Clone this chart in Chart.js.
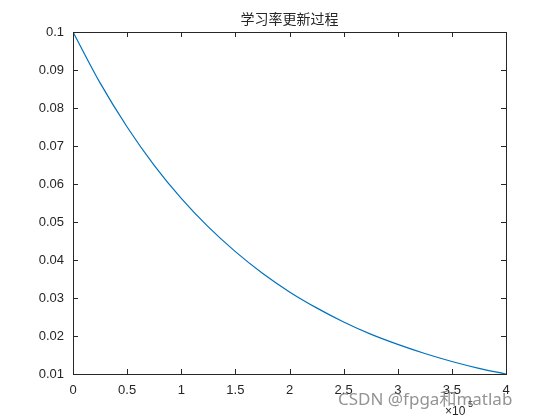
<!DOCTYPE html>
<html>
<head>
<meta charset="utf-8">
<script src="https://cdn.jsdelivr.net/npm/chart.js@4"></script>
<style>
  html, body { margin: 0; padding: 0; background: #fff; }
  #wrap { width: 560px; height: 420px; }
</style>
</head>
<body>
<div id="wrap"><canvas id="graph"></canvas></div>
<script>
// iteration (x 10^5) and learning rate
const iters = [0, 0.25, 0.5, 0.75, 1, 1.25, 1.5, 1.75, 2, 2.25, 2.5, 2.75, 3, 3.25, 3.5, 3.75, 4]
const rate = [0.1, 0.0866, 0.075, 0.0649, 0.0562, 0.0487, 0.0422, 0.0365, 0.0316, 0.0274, 0.0237, 0.0205, 0.0178, 0.0154, 0.0133, 0.0115, 0.01]
const xTicks = [0, 0.5, 1, 1.5, 2, 2.5, 3, 3.5, 4]
const yTicks = [0.01, 0.02, 0.03, 0.04, 0.05, 0.06, 0.07, 0.08, 0.09, 0.1]
const title = '学习率更新过程'

const AXIS = '#262626'

const boxTicks = {
  id: 'boxTicks',
  afterDraw(chart) {
    const { ctx, chartArea: { left, right, top, bottom }, scales: { x, y } } = chart
    ctx.save()
    ctx.strokeStyle = AXIS
    ctx.lineWidth = 1
    ctx.strokeRect(left + 0.5, top + 0.5, right - left, bottom - top)
    ctx.beginPath()
    xTicks.forEach(v => {
      const px = Math.round(x.getPixelForValue(v)) + 0.5
      ctx.moveTo(px, bottom); ctx.lineTo(px, bottom - 5)
      ctx.moveTo(px, top); ctx.lineTo(px, top + 5)
    })
    yTicks.forEach(v => {
      const py = Math.round(y.getPixelForValue(v)) + 0.5
      ctx.moveTo(left, py); ctx.lineTo(left + 5, py)
      ctx.moveTo(right, py); ctx.lineTo(right - 5, py)
    })
    ctx.stroke()

    // title
    ctx.fillStyle = AXIS
    ctx.font = '14px "Noto Sans CJK SC"'
    ctx.textAlign = 'center'
    ctx.textBaseline = 'alphabetic'
    ctx.fillText(title, (left + right) / 2, 24)

    // exponent
    ctx.font = '12px Arial, "Liberation Sans"'
    ctx.textAlign = 'left'
    ctx.fillText('×10', right - 61, 415)
    ctx.font = '9px Arial, "Liberation Sans"'
    ctx.fillText('5', right - 38, 407)

    // watermark
    ctx.font = '17px "Noto Sans", "Noto Sans CJK SC"'
    ctx.fillStyle = 'rgba(120,120,120,0.8)'
    ctx.fillText('CSDN @fpga和matlab', 338, 405)
    ctx.restore()
  }
}

const fmt = v => String(Number(Number(v).toFixed(2)))

new Chart(document.getElementById('graph'), {
  type: 'line',
  plugins: [boxTicks],
  data: {
    datasets: [{
      data: iters.map((v, i) => ({ x: v, y: rate[i] })),
      borderColor: '#0072BD',
      borderWidth: 1.2,
      pointRadius: 0,
      fill: false,
      cubicInterpolationMode: 'monotone'
    }]
  },
  options: {
    responsive: true,
    maintainAspectRatio: false,
    animation: false,
    layout: { padding: { top: 32, right: 54, left: 0, bottom: 0 } },
    plugins: { legend: { display: false }, tooltip: { enabled: false }, title: { display: false } },
    scales: {
      x: {
        type: 'linear',
        min: 0,
        max: 4,
        afterBuildTicks: s => { s.ticks = xTicks.map(v => ({ value: v })) },
        afterFit: s => { s.height = 46 },
        grid: { display: false, drawTicks: false },
        border: { display: false },
        ticks: { padding: 9, color: AXIS, font: { family: 'Arial, "Liberation Sans"', size: 13 }, callback: fmt, maxRotation: 0 }
      },
      y: {
        type: 'linear',
        min: 0.01,
        max: 0.1,
        afterBuildTicks: s => { s.ticks = yTicks.map(v => ({ value: v })) },
        afterFit: s => { s.width = 73 },
        grid: { display: false, drawTicks: false },
        border: { display: false },
        ticks: { padding: 9, color: AXIS, font: { family: 'Arial, "Liberation Sans"', size: 13 }, callback: fmt }
      }
    }
  }
})
</script>
</body>
</html>
